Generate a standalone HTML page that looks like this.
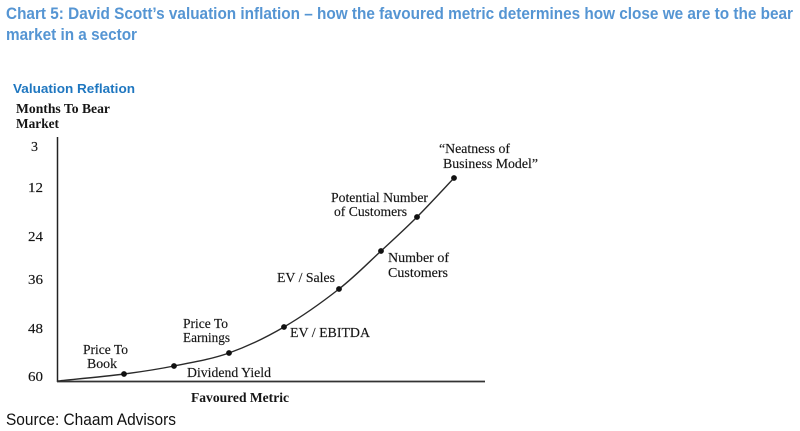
<!DOCTYPE html>
<html>
<head>
<meta charset="utf-8">
<style>
  html,body{margin:0;padding:0;background:#fff;}
  body{width:800px;height:431px;overflow:hidden;}
  svg{display:block;}
  .t{font-family:"Liberation Serif",serif;fill:#151515;font-size:13.5px;stroke:#151515;stroke-width:0.15px;}
  .tb{font-family:"Liberation Serif",serif;fill:#151515;font-size:13.5px;font-weight:bold;}
  .tick{font-family:"Liberation Serif",serif;fill:#151515;font-size:14px;stroke:#151515;stroke-width:0.15px;}
</style>
</head>
<body>
<svg width="800" height="431" viewBox="0 0 800 431" xmlns="http://www.w3.org/2000/svg">
  <!-- Title -->
  <text x="6" y="19" font-family="Liberation Sans, sans-serif" font-weight="bold" font-size="16.5" fill="#5595d3" textLength="787" lengthAdjust="spacingAndGlyphs">Chart 5:  David Scott’s valuation inflation – how the favoured metric determines how close we are to the bear</text>
  <text x="6" y="40" font-family="Liberation Sans, sans-serif" font-weight="bold" font-size="16.5" fill="#5595d3" textLength="131" lengthAdjust="spacingAndGlyphs">market in a sector</text>

  <!-- Subtitle -->
  <text x="13" y="93" font-family="Liberation Sans, sans-serif" font-weight="bold" font-size="12.5" fill="#1f77c0" textLength="122" lengthAdjust="spacingAndGlyphs">Valuation Reflation</text>

  <!-- Y axis title -->
  <text class="tb" x="16" y="113" textLength="94" lengthAdjust="spacingAndGlyphs">Months To Bear</text>
  <text class="tb" x="16" y="128" textLength="43" lengthAdjust="spacingAndGlyphs">Market</text>

  <!-- Ticks -->
  <text class="tick" x="31" y="151">3</text>
  <text class="tick" x="28" y="192" textLength="15" lengthAdjust="spacingAndGlyphs">12</text>
  <text class="tick" x="28" y="241" textLength="15" lengthAdjust="spacingAndGlyphs">24</text>
  <text class="tick" x="28" y="284" textLength="15" lengthAdjust="spacingAndGlyphs">36</text>
  <text class="tick" x="28" y="333" textLength="15" lengthAdjust="spacingAndGlyphs">48</text>
  <text class="tick" x="28" y="381" textLength="15" lengthAdjust="spacingAndGlyphs">60</text>

  <!-- Axes -->
  <line x1="57.5" y1="137" x2="57.5" y2="382" stroke="#222" stroke-width="1.5"/>
  <line x1="57" y1="381.5" x2="485" y2="381.5" stroke="#333" stroke-width="1.7"/>

  <!-- Curve -->
  <path d="M58,381 C69,379.8 104.7,376.5 124,374 C143.3,371.5 156.5,369.5 174,366 C191.5,362.5 210.7,359.5 229,353 C247.3,346.5 265.7,337.7 284,327 C302.3,316.3 322.8,301.7 339,289 C355.2,276.3 368,263 381,251 C394,239 404.8,229.2 417,217 C429.2,204.8 447.8,184.5 454,178" fill="none" stroke="#2a2a2a" stroke-width="1.4"/>

  <!-- Dots -->
  <g fill="#111">
    <circle cx="124" cy="374" r="2.9"/>
    <circle cx="174" cy="366" r="2.9"/>
    <circle cx="229" cy="353" r="2.9"/>
    <circle cx="284" cy="327" r="2.9"/>
    <circle cx="339" cy="289" r="2.9"/>
    <circle cx="381" cy="251" r="2.9"/>
    <circle cx="417" cy="217" r="2.9"/>
    <circle cx="454" cy="178" r="2.9"/>
  </g>

  <!-- Labels -->
  <text class="t" x="83" y="354" textLength="45" lengthAdjust="spacingAndGlyphs">Price To</text>
  <text class="t" x="87" y="368" textLength="30" lengthAdjust="spacingAndGlyphs">Book</text>

  <text class="t" x="183" y="328" textLength="45" lengthAdjust="spacingAndGlyphs">Price To</text>
  <text class="t" x="183" y="342" textLength="47" lengthAdjust="spacingAndGlyphs">Earnings</text>

  <text class="t" x="187" y="377" textLength="84" lengthAdjust="spacingAndGlyphs">Dividend Yield</text>

  <text class="t" x="290" y="337" textLength="80" lengthAdjust="spacingAndGlyphs">EV / EBITDA</text>
  <text class="t" x="277" y="282" textLength="58" lengthAdjust="spacingAndGlyphs">EV / Sales</text>

  <text class="t" x="388" y="262" textLength="61" lengthAdjust="spacingAndGlyphs">Number of</text>
  <text class="t" x="388" y="277" textLength="60" lengthAdjust="spacingAndGlyphs">Customers</text>

  <text class="t" x="331" y="202" textLength="97" lengthAdjust="spacingAndGlyphs">Potential Number</text>
  <text class="t" x="334" y="216" textLength="73" lengthAdjust="spacingAndGlyphs">of Customers</text>

  <text class="t" x="439" y="153" textLength="71" lengthAdjust="spacingAndGlyphs">“Neatness of</text>
  <text class="t" x="443" y="168" textLength="95" lengthAdjust="spacingAndGlyphs">Business Model”</text>

  <!-- X axis title -->
  <text class="tb" x="191" y="402" textLength="98" lengthAdjust="spacingAndGlyphs">Favoured Metric</text>

  <!-- Source -->
  <text x="6" y="425" font-family="Liberation Sans, sans-serif" font-size="17" fill="#111" textLength="170" lengthAdjust="spacingAndGlyphs">Source: Chaam Advisors</text>
</svg>
</body>
</html>
